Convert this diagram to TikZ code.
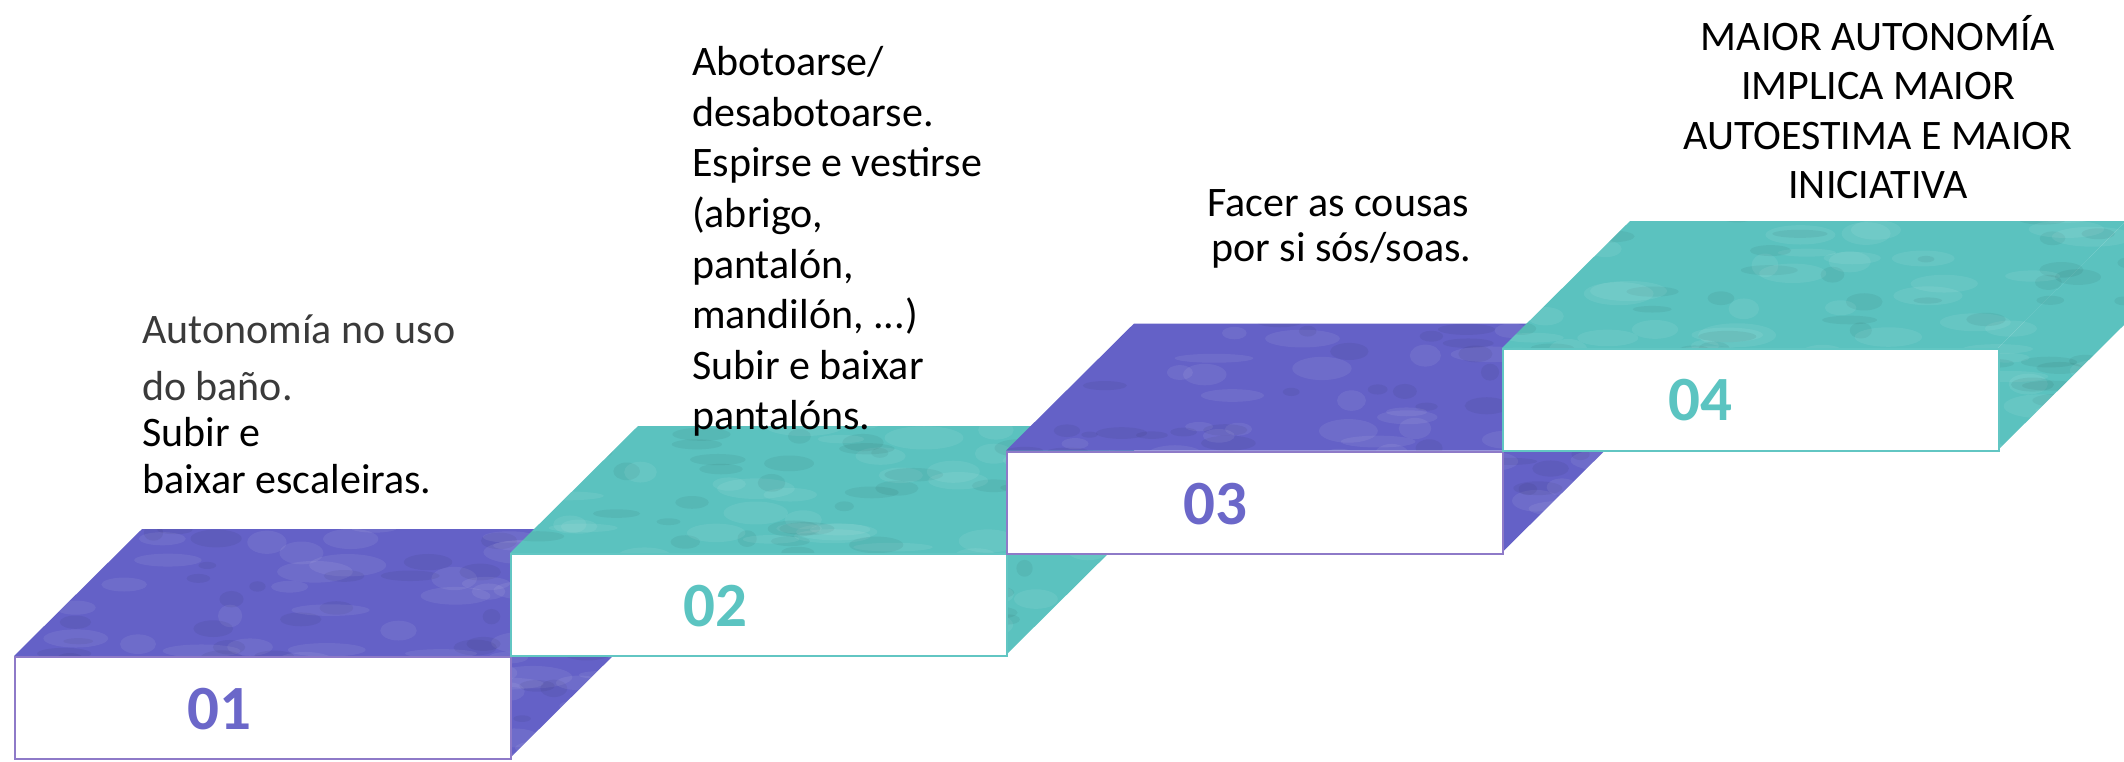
\documentclass[tikz,border=0pt]{standalone}
\usepackage{fontspec}
\setmainfont{Carlito}
\definecolor{purp}{HTML}{6461C7}
\definecolor{purpline}{HTML}{8E7AC8}
\definecolor{tealf}{HTML}{5BC2BF}
\definecolor{tealline}{HTML}{62C6C3}
\definecolor{numpurp}{HTML}{6B67C9}
\definecolor{numteal}{HTML}{5BC4C1}
\definecolor{graytxt}{HTML}{3A3A3A}
\newcommand\stepblock[5]{%
  \fill[#4] (#2,#3) -- ++(128,-127) -- ++(496,0) -- ++(-128,127) -- cycle;
  \fill[#4] (#2+496,#3) -- ++(128,-127) -- ++(0,102) -- ++(-128,127) -- cycle;
  \begin{scope}
    \clip (#2,#3) -- ++(128,-127) -- ++(496,0) -- ++(-128,127) -- cycle
          (#2+496,#3) -- ++(128,-127) -- ++(0,102) -- ++(-128,127) -- cycle;
    \foreach \k in {1,...,70}{%
      \pgfmathsetmacro\rx{#2+rnd*640}%
      \pgfmathsetmacro\ry{#3-135+rnd*245}%
      \pgfmathsetmacro\ra{12+rnd*30}%
      \pgfmathsetmacro\rb{4+rnd*8}%
      \fill[white, opacity=0.07] (\rx,\ry) ellipse [x radius=\ra, y radius=\rb];
      \pgfmathsetmacro\sx{#2+rnd*640}%
      \pgfmathsetmacro\sy{#3-135+rnd*245}%
      \pgfmathsetmacro\sa{8+rnd*22}%
      \pgfmathsetmacro\sb{3+rnd*6}%
      \fill[black, opacity=0.05] (\sx,\sy) ellipse [x radius=\sa, y radius=\sb];
    }
  \end{scope}
  \node[frontface, draw=#5] (#1) at (#2,#3) {};
}
\begin{document}
\begin{tikzpicture}[x=0.5pt,y=-0.5pt,
  txt/.style={inner sep=0pt, font=\fontsize{21}{25}\selectfont, anchor=base west},
  num/.style={inner sep=0pt, font=\fontsize{31.5}{36}\selectfont\bfseries, anchor=base},
  frontface/.style={fill=white, line width=1.2pt, anchor=north west, inner sep=0pt,
    minimum width=248pt, minimum height=51pt},
]
\pgfmathsetseed{4711}
\useasboundingbox (0,0) rectangle (2124,761);
\stepblock{s1}{14}{656}{purp}{purpline}
\stepblock{s2}{510}{553}{tealf}{tealline}
\stepblock{s3}{1006}{450.5}{purp}{purpline}
\stepblock{s4}{1502}{348}{tealf}{tealline}
\node[num, text=numpurp] (n1) at (219,729.3) {01};
\node[num, text=numteal] (n2) at (715,626) {02};
\node[num, text=numpurp] (n3) at (1215,524) {03};
\node[num, text=numteal] (n4) at (1700,420) {04};
% text 1
\node[txt, text=graytxt] (t1a) at (141.7,343) {Autonomía no uso};
\node[txt, text=graytxt] (t1b) at (141.7,400.7) {do baño.};
\node[txt] (t1c) at (141.7,446.7) {Subir e};
\node[txt] (t1d) at (141.7,493) {baixar escaleiras.};
% text 2
\node[txt] (t2a) at (691.7,75.7) {Abotoarse/};
\node[txt] (t2b) at (691.7,126.3) {desabotoarse.};
\node[txt] (t2c) at (691.7,176.9) {Espirse e vestirse};
\node[txt] (t2d) at (691.7,227.5) {(abrigo,};
\node[txt] (t2e) at (691.7,278.1) {pantalón,};
\node[txt] (t2f) at (691.7,328.7) {mandilón, ...)};
\node[txt] (t2g) at (691.7,379.3) {Subir e baixar};
\node[txt] (t2h) at (691.7,429.9) {pantalóns.};
% text 3
\node[txt] (t3a) at (1207,216.7) {Facer as cousas};
\node[txt] (t3b) at (1211,261.7) {por si sós/soas.};
% text 4
\node[txt, anchor=base] (t4a) at (1878,50) {MAIOR AUTONOMÍA};
\node[txt, anchor=base] (t4b) at (1878,99.3) {IMPLICA MAIOR};
\node[txt, anchor=base] (t4c) at (1878,149.3) {AUTOESTIMA E MAIOR};
\node[txt, anchor=base] (t4d) at (1878,198.3) {INICIATIVA};
\end{tikzpicture}
\end{document}
